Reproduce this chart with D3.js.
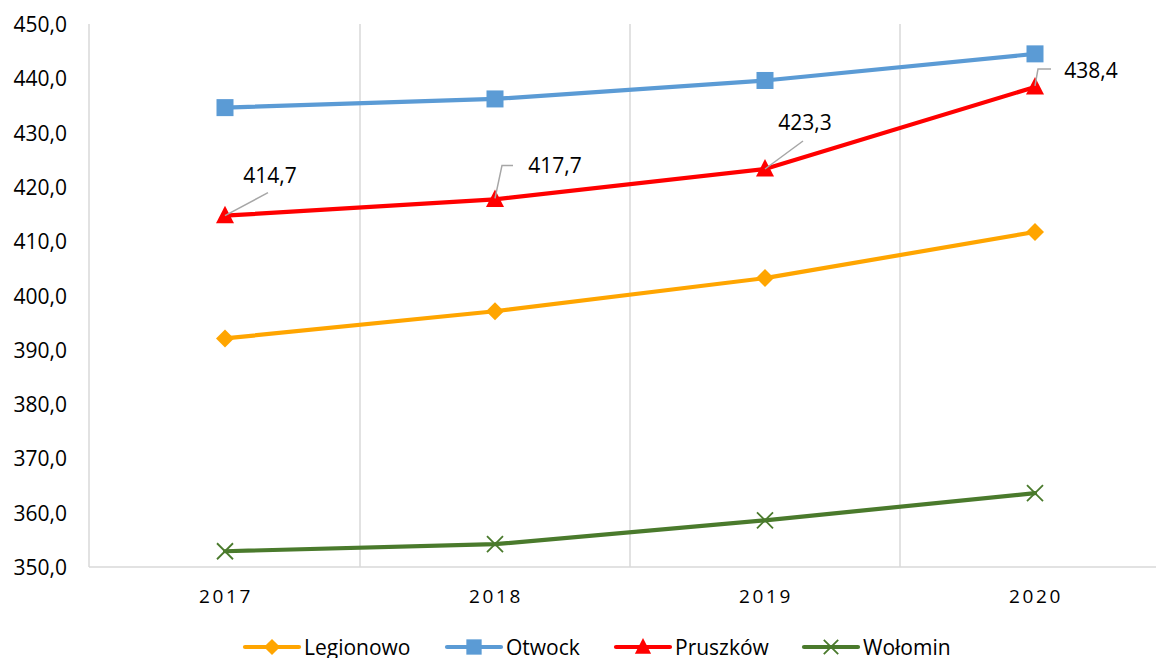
<!DOCTYPE html>
<html>
<head>
<meta charset="utf-8">
<script src="https://cdn.jsdelivr.net/npm/d3@7"></script>
<style>
  body { margin: 0; background: #fff; }
  text { font-family: "Open Sans", sans-serif; }
</style>
</head>
<body>
<script>
// chart data
const years = ["2017", "2018", "2019", "2020"];
const legionowo = [392.1, 397.1, 403.2, 411.7];
const otwock = [434.6, 436.2, 439.6, 444.5];
const pruszkow = [414.7, 417.7, 423.3, 438.4];
const wolomin = [352.9, 354.2, 358.6, 363.6];
const yTicks = [350, 360, 370, 380, 390, 400, 410, 420, 430, 440, 450];

const series = [
    { name: "Legionowo", values: legionowo, color: "#FFA500", marker: "diamond" },
    { name: "Otwock", values: otwock, color: "#5B9BD5", marker: "square" },
    { name: "Pruszków", values: pruszkow, color: "#FF0000", marker: "triangle" },
    { name: "Wołomin", values: wolomin, color: "#4A7A2C", marker: "cross" }
];

const width = 1156, height = 658;
const svg = d3.select("body").append("svg").attr("width", width).attr("height", height);

const x = d3.scaleBand().domain(years).range([90, 1170]);
const y = d3.scaleLinear().domain([350, 450]).range([567, 24]);
const fmt = v => d3.format(".1f")(v).replace(".", ",");

// vertical gridlines between categories
svg.append("g").selectAll("line")
    .data(years.slice(1))
    .enter().append("line")
    .attr("x1", d => x(d)).attr("x2", d => x(d))
    .attr("y1", y(450)).attr("y2", y(350))
    .attr("stroke", "#d9d9d9").attr("stroke-width", 1.5);

// axes lines
svg.append("line").attr("x1", 89).attr("x2", 89).attr("y1", y(450)).attr("y2", y(350))
    .attr("stroke", "#d9d9d9").attr("stroke-width", 1.5);
svg.append("line").attr("x1", 89).attr("x2", 1170).attr("y1", y(350)).attr("y2", y(350))
    .attr("stroke", "#d9d9d9").attr("stroke-width", 1.5);

// y tick labels
svg.append("g").selectAll("text")
    .data(yTicks)
    .enter().append("text")
    .attr("x", 67).attr("y", d => y(d) + 8)
    .attr("text-anchor", "end")
    .attr("font-size", 21)
    .attr("fill", "#000")
    .text(fmt);

// x tick labels
svg.append("g").selectAll("text")
    .data(years)
    .enter().append("text")
    .attr("x", d => x(d) + x.bandwidth() / 2 + 1)
    .attr("y", 603)
    .attr("text-anchor", "middle")
    .attr("font-size", 19)
    .attr("letter-spacing", "2.6px")
    .attr("fill", "#000")
    .text(d => d);

const line = d3.line()
    .x((d, i) => x(years[i]) + x.bandwidth() / 2)
    .y(d => y(d));

function drawMarker(g, type, cx, cy, color, k) {
    k = k || 1;
    if (type === "diamond") {
        g.append("path").attr("d", `M${cx},${cy - 9 * k}L${cx + 9 * k},${cy}L${cx},${cy + 9 * k}L${cx - 9 * k},${cy}Z`)
            .attr("fill", color);
    } else if (type === "square") {
        g.append("rect").attr("x", cx - 8.5 * k).attr("y", cy - 8.5 * k)
            .attr("width", 17 * k).attr("height", 17 * k).attr("fill", color);
    } else if (type === "triangle") {
        g.append("path").attr("d", `M${cx},${cy - 10 * k}L${cx + 9 * k},${cy + 7.5 * k}L${cx - 9 * k},${cy + 7.5 * k}Z`)
            .attr("fill", color);
    } else {
        g.append("path").attr("d", `M${cx - 8 * k},${cy - 8 * k}L${cx + 8 * k},${cy + 8 * k}M${cx - 8 * k},${cy + 8 * k}L${cx + 8 * k},${cy - 8 * k}`)
            .attr("stroke", color).attr("stroke-width", 1.8).attr("fill", "none");
    }
}

series.forEach(s => {
    const g = svg.append("g");
    g.append("path").datum(s.values)
        .attr("d", line)
        .attr("fill", "none")
        .attr("stroke", s.color)
        .attr("stroke-width", 4.2)
        .attr("stroke-linejoin", "round")
        .attr("stroke-linecap", "round");
    s.values.forEach((v, i) => {
        drawMarker(g, s.marker, x(years[i]) + x.bandwidth() / 2, y(v), s.color);
    });
});

// data labels for Pruszków with leader lines
const labelOffsets = [
    { dx: 45, dy: -33, leader: [[43, -23], [0, 0]] },
    { dx: 60, dy: -26, leader: [[18, -34], [7, -34], [0, -1]] },
    { dx: 40, dy: -39, leader: [[38, -28], [0, 0]] },
    { dx: 56, dy: -9, leader: [[16, -18], [3, -18], [0, -1]] }
];
const labels = svg.append("g");
pruszkow.forEach((v, i) => {
    const cx = x(years[i]) + x.bandwidth() / 2, cy = y(v);
    const o = labelOffsets[i];
    labels.append("path")
        .attr("d", d3.line()(o.leader.map(p => [cx + p[0], cy + p[1]])))
        .attr("fill", "none").attr("stroke", "#a6a6a6").attr("stroke-width", 1.5);
    labels.append("text")
        .attr("x", cx + o.dx).attr("y", cy + o.dy)
        .attr("text-anchor", "middle")
        .attr("font-size", 21)
        .attr("fill", "#000")
        .text(fmt(v));
});

// legend
const legendX = [245, 447, 616, 804];
const legendW = 54;
const legend = svg.append("g");
series.forEach((s, i) => {
    const lx = legendX[i], ly = 647;
    legend.append("line").attr("x1", lx).attr("x2", lx + legendW)
        .attr("y1", ly).attr("y2", ly)
        .attr("stroke", s.color).attr("stroke-width", 4.2).attr("stroke-linecap", "round");
    drawMarker(legend, s.marker, lx + legendW / 2, ly, s.color, 0.9);
    legend.append("text").attr("x", lx + legendW + 5).attr("y", ly + 8)
        .attr("font-size", 21).attr("fill", "#000")
        .text(s.name);
});
</script>
</body>
</html>
